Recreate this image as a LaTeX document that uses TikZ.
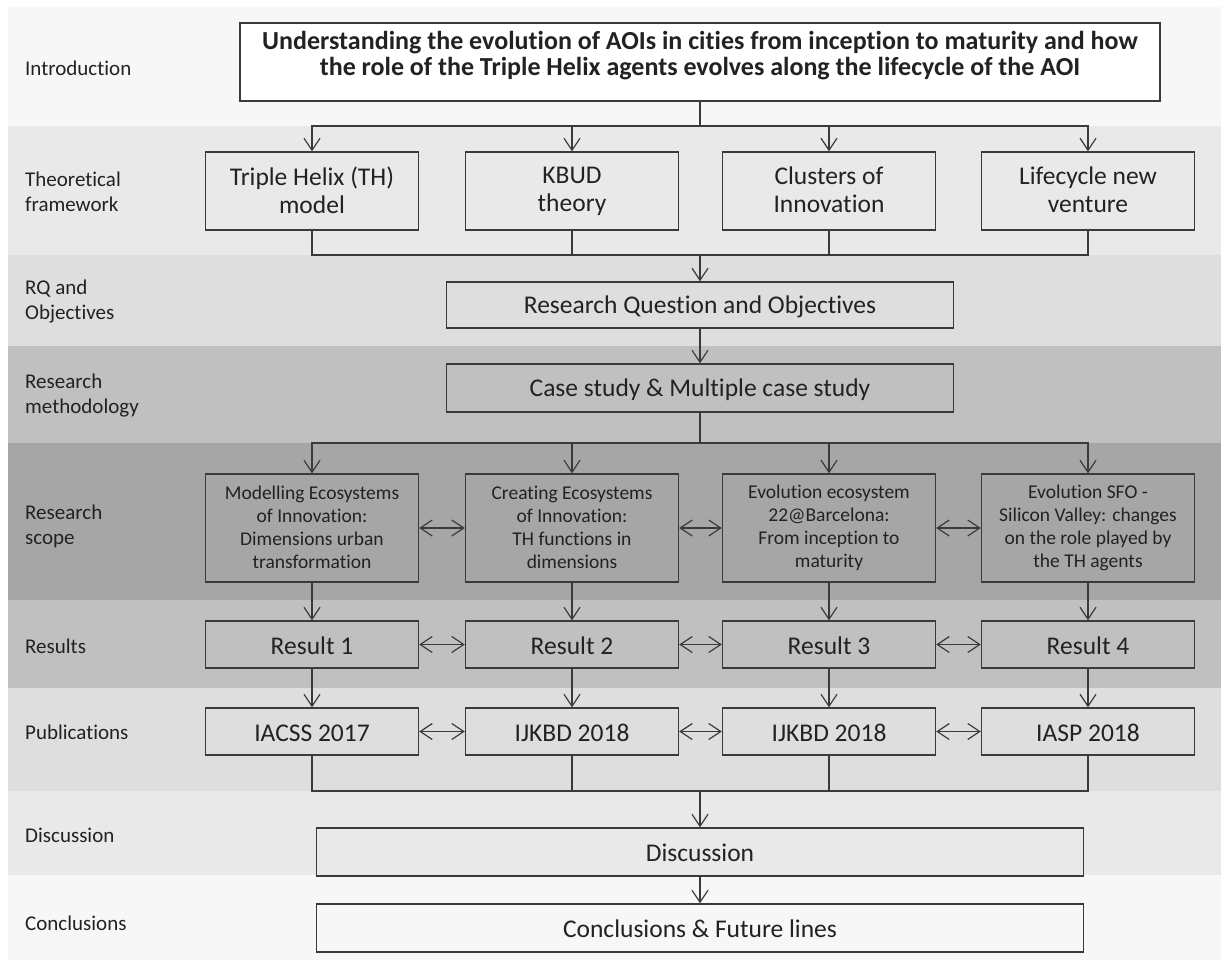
\documentclass[tikz,border=0pt]{standalone}
\usepackage{fontspec}
\setmainfont{Carlito}[Ligatures={NoCommon,NoContextual}]
\usetikzlibrary{arrows.meta}

\definecolor{bandA}{HTML}{F7F7F7}
\definecolor{bandB}{HTML}{E9E9E9}
\definecolor{bandC}{HTML}{DEDEDE}
\definecolor{bandD}{HTML}{C0C0C0}
\definecolor{bandE}{HTML}{A6A6A6}
\definecolor{linec}{HTML}{3A3A3A}
\definecolor{textc}{HTML}{222222}

% strut that keeps capitals visually centred in a box
\newcommand\capstrut{\rule[-0.1em]{0pt}{0.95em}}

\tikzset{
  basebox/.style={draw=linec, line width=1.4pt, inner sep=0pt, align=center,
              text=textc, font=\fontsize{25.5}{28}\selectfont},
  box/.style={basebox,
              execute at begin node=\capstrut, execute at end node=\capstrut},
  colbox/.style={box, minimum width=213pt},
  scopebox/.style={colbox, minimum height=108pt, fill=bandE,
              font=\fontsize{19.5}{23}\selectfont},
  lab/.style={anchor=west, align=left, inner sep=0pt, text=textc,
              font=\fontsize{21}{25}\selectfont},
  ln/.style={draw=linec, line width=1.2pt},
  arr/.style={ln, -{Straight Barb[length=12pt,width=16pt]}},
  dbl/.style={ln, {Straight Barb[length=12pt,width=16pt]}-{Straight Barb[length=12pt,width=16pt]}},
}

\begin{document}
\begin{tikzpicture}[x=1pt,y=-1pt]
\useasboundingbox (0,0) rectangle (1221,960);

% horizontal bands
\fill[white] (0,0) rectangle (1221,960);
\fill[bandA] (8,7)   rectangle (1221,126);
\fill[bandB] (8,126) rectangle (1221,255);
\fill[bandC] (8,255) rectangle (1221,346);
\fill[bandD] (8,346) rectangle (1221,443);
\fill[bandE] (8,443) rectangle (1221,600);
\fill[bandD] (8,600) rectangle (1221,688);
\fill[bandC] (8,688) rectangle (1221,791);
\fill[bandB] (8,791) rectangle (1221,875);
\fill[bandA] (8,875) rectangle (1221,960);

% row labels
\node[lab] (l1) at (25,68)  {Introduction};
\node[lab] (l2) at (25,192) {Theoretical\\framework};
\node[lab] (l3) at (25,302) {RQ and\\Objectives};
\node[lab] (l4) at (25,396) {Research\\methodology};
\node[lab] (l5) at (25,526) {Research\\scope};
\node[lab] (l6) at (25,646) {Results};
\node[lab] (l7) at (25,732) {Publications};
\node[lab] (l8) at (25,835) {Discussion};
\node[lab] (l9) at (25,923) {Conclusions};

% introduction
\node[basebox, fill=white, minimum width=920pt, minimum height=78pt,
      font=\bfseries\fontsize{26}{26}\selectfont,
      execute at begin node=\strut,
      execute at end node={\rule[-18pt]{0pt}{1pt}}] (intro) at (700,62)
  {Understanding the evolution of AOIs in cities from inception to maturity and how\\
   the role of the Triple Helix agents evolves along the lifecycle of the AOI};

% theoretical framework
\node[colbox, fill=bandB, minimum height=78pt] (t1) at (312,191)  {Triple Helix (TH)\\model};
\node[colbox, fill=bandB, minimum height=78pt] (t2) at (572,191)  {KBUD\\theory};
\node[colbox, fill=bandB, minimum height=78pt] (t3) at (829,191)  {Clusters of\\Innovation};
\node[colbox, fill=bandB, minimum height=78pt] (t4) at (1088,191) {Lifecycle new\\venture};

% research question and methodology
\node[box, fill=bandC, minimum width=507pt, minimum height=46pt] (rq) at (700,305)
  {Research Question and Objectives};
\node[box, fill=bandD, minimum width=507pt, minimum height=48pt] (cs) at (700,388)
  {Case study \& Multiple case study};

% research scope
\node[scopebox] (s1) at (312,528)  {Modelling Ecosystems\\of Innovation:\\Dimensions urban\\transformation};
\node[scopebox] (s2) at (572,528)  {Creating Ecosystems\\of Innovation:\\TH functions in\\dimensions};
\node[scopebox] (s3) at (829,528)  {Evolution ecosystem\\22@Barcelona:\\From inception to\\maturity};
\node[scopebox] (s4) at (1088,528) {Evolution SFO -\\Silicon Valley: changes\\on the role played by\\the TH agents};

% results
\node[colbox, fill=bandD, minimum height=47pt] (r1) at (312,644.5)  {Result 1};
\node[colbox, fill=bandD, minimum height=47pt] (r2) at (572,644.5)  {Result 2};
\node[colbox, fill=bandD, minimum height=47pt] (r3) at (829,644.5)  {Result 3};
\node[colbox, fill=bandD, minimum height=47pt] (r4) at (1088,644.5) {Result 4};

% publications
\node[colbox, fill=bandC, minimum height=47pt] (p1) at (312,731.5)  {IACSS 2017};
\node[colbox, fill=bandC, minimum height=47pt] (p2) at (572,731.5)  {IJKBD 2018};
\node[colbox, fill=bandC, minimum height=47pt] (p3) at (829,731.5)  {IJKBD 2018};
\node[colbox, fill=bandC, minimum height=47pt] (p4) at (1088,731.5) {IASP 2018};

% discussion and conclusions
\node[box, fill=bandB, minimum width=767pt, minimum height=48pt] (disc) at (700,852) {Discussion};
\node[box, fill=bandA, minimum width=767pt, minimum height=48pt] (conc) at (700,928) {Conclusions \& Future lines};

% bus levels
\coordinate (busA) at (0,126);
\coordinate (busB) at (0,255);
\coordinate (busC) at (0,443);
\coordinate (busD) at (0,791);

% introduction -> theoretical framework
\draw[ln] (intro.south) -- (intro.south |- busA);
\draw[ln, line cap=rect] (t1.north |- busA) -- (t4.north |- busA);
\foreach \n in {t1,t2,t3,t4} \draw[arr] (\n.north |- busA) -- (\n.north);

% theoretical framework -> research question
\foreach \n in {t1,t2,t3,t4} \draw[ln] (\n.south) -- (\n.south |- busB);
\draw[ln, line cap=rect] (t1.south |- busB) -- (t4.south |- busB);
\draw[arr] (rq.north |- busB) -- (rq.north);

% research question -> methodology
\draw[arr] (rq.south) -- (cs.north);

% methodology -> research scope
\draw[ln] (cs.south) -- (cs.south |- busC);
\draw[ln, line cap=rect] (s1.north |- busC) -- (s4.north |- busC);
\foreach \n in {s1,s2,s3,s4} \draw[arr] (\n.north |- busC) -- (\n.north);

% scope -> results -> publications
\foreach \i in {1,2,3,4} {
  \draw[arr] (s\i.south) -- (r\i.north);
  \draw[arr] (r\i.south) -- (p\i.north);
}

% links between neighbouring columns
\foreach \a/\b in {1/2,2/3,3/4} {
  \draw[dbl] (s\a.east) -- (s\b.west);
  \draw[dbl] (r\a.east) -- (r\b.west);
  \draw[dbl] (p\a.east) -- (p\b.west);
}

% publications -> discussion -> conclusions
\foreach \n in {p1,p2,p3,p4} \draw[ln] (\n.south) -- (\n.south |- busD);
\draw[ln, line cap=rect] (p1.south |- busD) -- (p4.south |- busD);
\draw[arr] (disc.north |- busD) -- (disc.north);
\draw[arr] (disc.south) -- (conc.north);
\end{tikzpicture}
\end{document}
